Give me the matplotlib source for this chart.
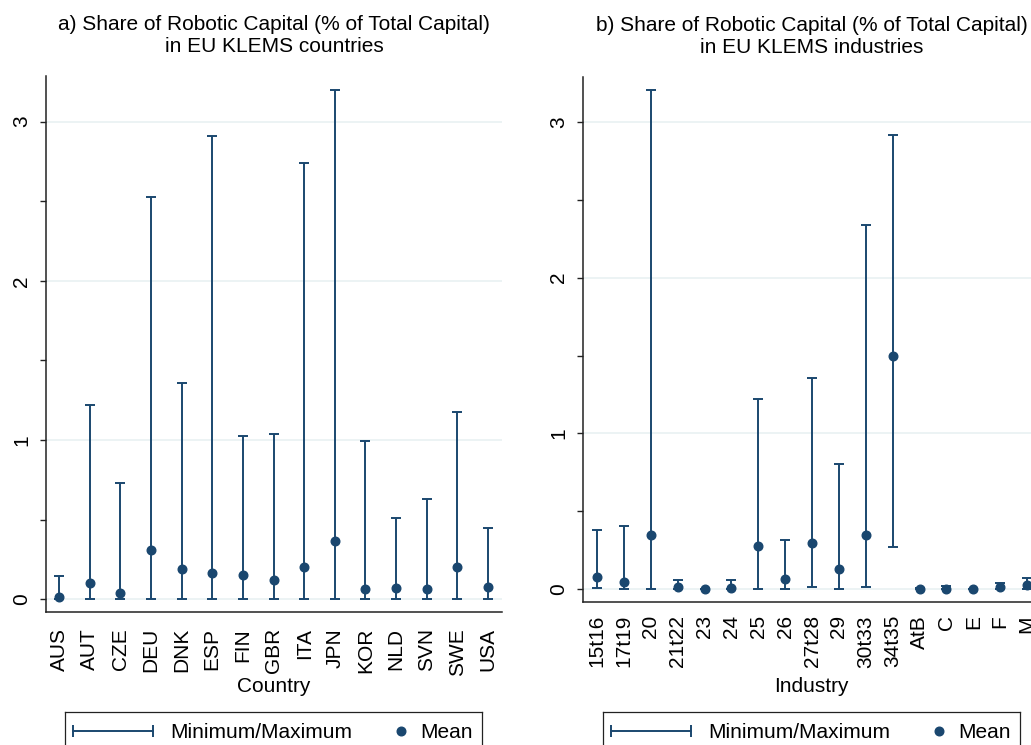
import matplotlib
matplotlib.use("Agg")
import matplotlib.pyplot as plt
from matplotlib.ticker import FixedLocator

plt.rcParams["font.family"] = ["Liberation Sans", "DejaVu Sans"]
plt.rcParams["font.size"] = 15

# ---- data: share of robotic capital (% of total capital) ----
countries = ["AUS", "AUT", "CZE", "DEU", "DNK", "ESP", "FIN", "GBR",
             "ITA", "JPN", "KOR", "NLD", "SVN", "SWE", "USA"]
country_min = [0.0, 0.0, 0.0, 0.0, 0.0, 0.0, 0.0, 0.0,
               0.0, 0.0, 0.0, 0.0, 0.0, 0.0, 0.0]
country_max = [0.148, 1.22, 0.729, 2.527, 1.359, 2.911, 1.026, 1.036,
               2.742, 3.201, 0.994, 0.509, 0.632, 1.175, 0.448]
country_mean = [0.016, 0.104, 0.040, 0.308, 0.188, 0.165, 0.151, 0.123,
                0.199, 0.362, 0.065, 0.067, 0.063, 0.203, 0.075]

industries = ["15t16", "17t19", "20", "21t22", "23", "24", "25", "26",
              "27t28", "29", "30t33", "34t35", "AtB", "C", "E", "F", "M"]
industry_min = [0.010, 0.003, 0.0, 0.0, 0.0, 0.0, 0.0, 0.0,
                0.016, 0.0, 0.014, 0.275, 0.0, 0.0, 0.0, 0.0, 0.0]
industry_max = [0.379, 0.407, 3.204, 0.061, 0.004, 0.063, 1.224, 0.318,
                1.359, 0.805, 2.336, 2.913, 0.006, 0.022, 0.002, 0.042, 0.074]
industry_mean = [0.080, 0.048, 0.352, 0.016, 0.001, 0.012, 0.277, 0.068,
                 0.298, 0.128, 0.352, 1.496, 0.003, 0.005, 0.000, 0.016, 0.031]

NAVY = "#1a476f"
GRID = "#eaf2f3"
AXIS = "#222222"

W, H = 1031, 745
fig = plt.figure(figsize=(W / 100, H / 100), dpi=100)
fig.patch.set_facecolor("white")


def px_axes(left, top, right, bottom):
    return fig.add_axes([left / W, (H - bottom) / H, (right - left) / W, (bottom - top) / H])


def draw_panel(ax, names, lo, hi, mean, title, xlabel, xlim, tickpad, labely):
    x = list(range(1, len(names) + 1))
    yerr = [[m - a for m, a in zip(mean, lo)], [b - m for m, b in zip(mean, hi)]]
    ax.errorbar(x, mean, yerr=yerr, fmt="o", color=NAVY, ms=6.2,
                elinewidth=1.4, capsize=3.7, capthick=1.4, zorder=3)
    ax.set_xlim(*xlim)
    ax.set_ylim(-0.081, 3.287)
    ax.yaxis.set_major_locator(FixedLocator([0, 1, 2, 3]))
    ax.yaxis.set_minor_locator(FixedLocator([0.5, 1.5, 2.5]))
    ax.set_yticklabels(["0", "1", "2", "3"], rotation=90, va="center")
    ax.tick_params(axis="y", which="both", length=4.5, width=1.0,
                   color=AXIS, pad=6)
    ax.set_xticks(x)
    ax.set_xticklabels(names, rotation=90)
    ax.tick_params(axis="x", length=0, pad=tickpad)
    ax.grid(axis="y", which="major", color=GRID, lw=1.3, zorder=0)
    ax.set_axisbelow(True)
    for s in ("top", "right"):
        ax.spines[s].set_visible(False)
    for s in ("left", "bottom"):
        ax.spines[s].set_color(AXIS)
        ax.spines[s].set_linewidth(1.1)
    ax.set_title(title, fontsize=15, pad=17, linespacing=1.2)
    ax.set_xlabel(xlabel, fontsize=15)
    ax.xaxis.set_label_coords(0.5, labely)


def draw_key(left, top):
    lax = px_axes(left, top, left + 417, top + 42)
    lax.set_xlim(0, 417)
    lax.set_ylim(42, 0)
    lax.set_xticks([])
    lax.set_yticks([])
    for s in lax.spines.values():
        s.set_color(AXIS)
        s.set_linewidth(0.9)
    lax.plot([8, 88], [19, 19], color=NAVY, lw=1.4)
    lax.plot([8, 88], [19, 19], ls="none", marker="|", ms=8, mew=1.4, color=NAVY)
    lax.text(105, 20, "Minimum/Maximum", va="center", ha="left")
    lax.plot([336], [19], "o", color=NAVY, ms=6.2)
    lax.text(355, 20, "Mean", va="center", ha="left")


ax1 = px_axes(46, 76, 502, 612)
draw_panel(ax1, countries, country_min, country_max, country_mean,
           "a) Share of Robotic Capital (% of Total Capital)\nin EU KLEMS countries",
           "Country", (0.575, 15.457), 11.5, -0.121)

ax2 = px_axes(583, 77, 1040, 602)
draw_panel(ax2, industries, industry_min, industry_max, industry_mean,
           "b) Share of Robotic Capital (% of Total Capital)\nin EU KLEMS industries",
           "Industry", (0.479, 17.48), 9.4, -0.142)

draw_key(65, 712)
draw_key(603, 712)

fig.savefig("out.png", dpi=100)
